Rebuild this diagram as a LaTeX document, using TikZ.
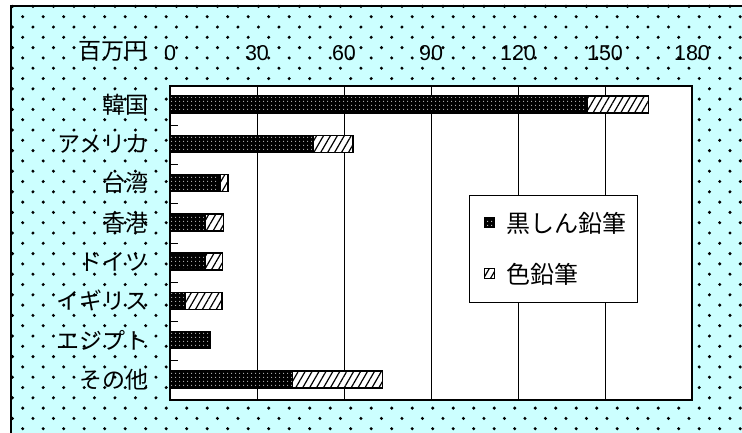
\documentclass[tikz,border=0pt]{standalone}
\usepackage{fontspec}
\newfontfamily\jpfont{Noto Sans CJK JP}
\newfontfamily\numfont{Liberation Sans}
\usepackage{xcolor}
\usepackage{tikz}
\usetikzlibrary{
	patterns,patterns.meta
}
\definecolor{bgcyan}{HTML}{CCFFFF}

\begin{document}
\begin{tikzpicture}[x=1pt,y=-1pt,
	lab/.style={font=\jpfont\fontsize{23}{25}\selectfont,inner sep=0pt},
	num/.style={font=\numfont\fontsize{21.5}{24}\selectfont,inner sep=0pt},
	blk/.style={draw,line width=1.4pt,preaction={fill=black},pattern={Dots[distance=4pt,radius=0.6pt]},pattern color=white},
	clr/.style={draw,line width=1.4pt,preaction={fill=white},pattern={Lines[angle=60,distance=6pt,line width=1.2pt]}}]
	\clip (0,0) rectangle (742,432);
	\fill[bgcyan] (11,6) rectangle (760,450);
	%
	\foreach \n in {-1,...,40} {
		\foreach \k in {0,...,35} {
			\fill ({12.45+20.5*\k+10.25*mod(\n+1,2)},{6.4+10.3*(\n+1)}) circle (1.7);
		}
	}
	\draw[line width=1.5pt] (11,450) -- (11,6) -- (760,6);
	%
	\fill[white] (170,86) rectangle (692,400);
	\foreach \k in {1,...,5}
		\draw[line width=0.8pt] ({170+87*\k},86) -- ({170+87*\k},400);
	\foreach \k in {1,...,7}
		\draw[line width=0.8pt] (170,{86+39.25*\k}) -- (178,{86+39.25*\k});
	%
	\foreach \lab/\b/\c [count=\i from 0] in {韓国/144/21,アメリカ/49.3/13.8,台湾/17.2/2.8,香港/12/6.5,ドイツ/12/6,イギリス/5.2/12.7,エジプト/14/0,その他/42.3/31} {
		\pgfmathsetmacro\yc{86+39.25*(\i+0.5)-1}
		\draw[blk] (170,{\yc-8.5}) rectangle ({170+2.9*\b},{\yc+8.5});
		\draw[clr] ({170+2.9*\b},{\yc-8.5}) rectangle ({170+2.9*(\b+\c)},{\yc+8.5});
		\node[lab,anchor=east] (c\i) at (149,\yc) {\lab};
	}
	\draw[line width=1.5pt] (170,86) rectangle (692,400);
	%
	\node[lab,anchor=east] (unit) at (148,51) {百万円};
	\foreach \v [count=\k from 0] in {0,30,60,90,120,150,180}
		\node[num] (n\v) at ({170+87*\k},53) {\v};
	%
	\draw[fill=white,line width=0.8pt] (469,195) rectangle (637,302);
	\node[blk,minimum size=10pt,inner sep=0pt,line width=1pt] (mblk) at (489.5,222) {};
	\node[clr,minimum size=10pt,inner sep=0pt,line width=1pt] (mclr) at (489.5,273.5) {};
	\node[lab,anchor=west,font=\jpfont\fontsize{24}{26}\selectfont] (lblk) at (506,223) {黒しん鉛筆};
	\node[lab,anchor=west,font=\jpfont\fontsize{24}{26}\selectfont] (lclr) at (506,274) {色鉛筆};
\end{tikzpicture}
\end{document}
